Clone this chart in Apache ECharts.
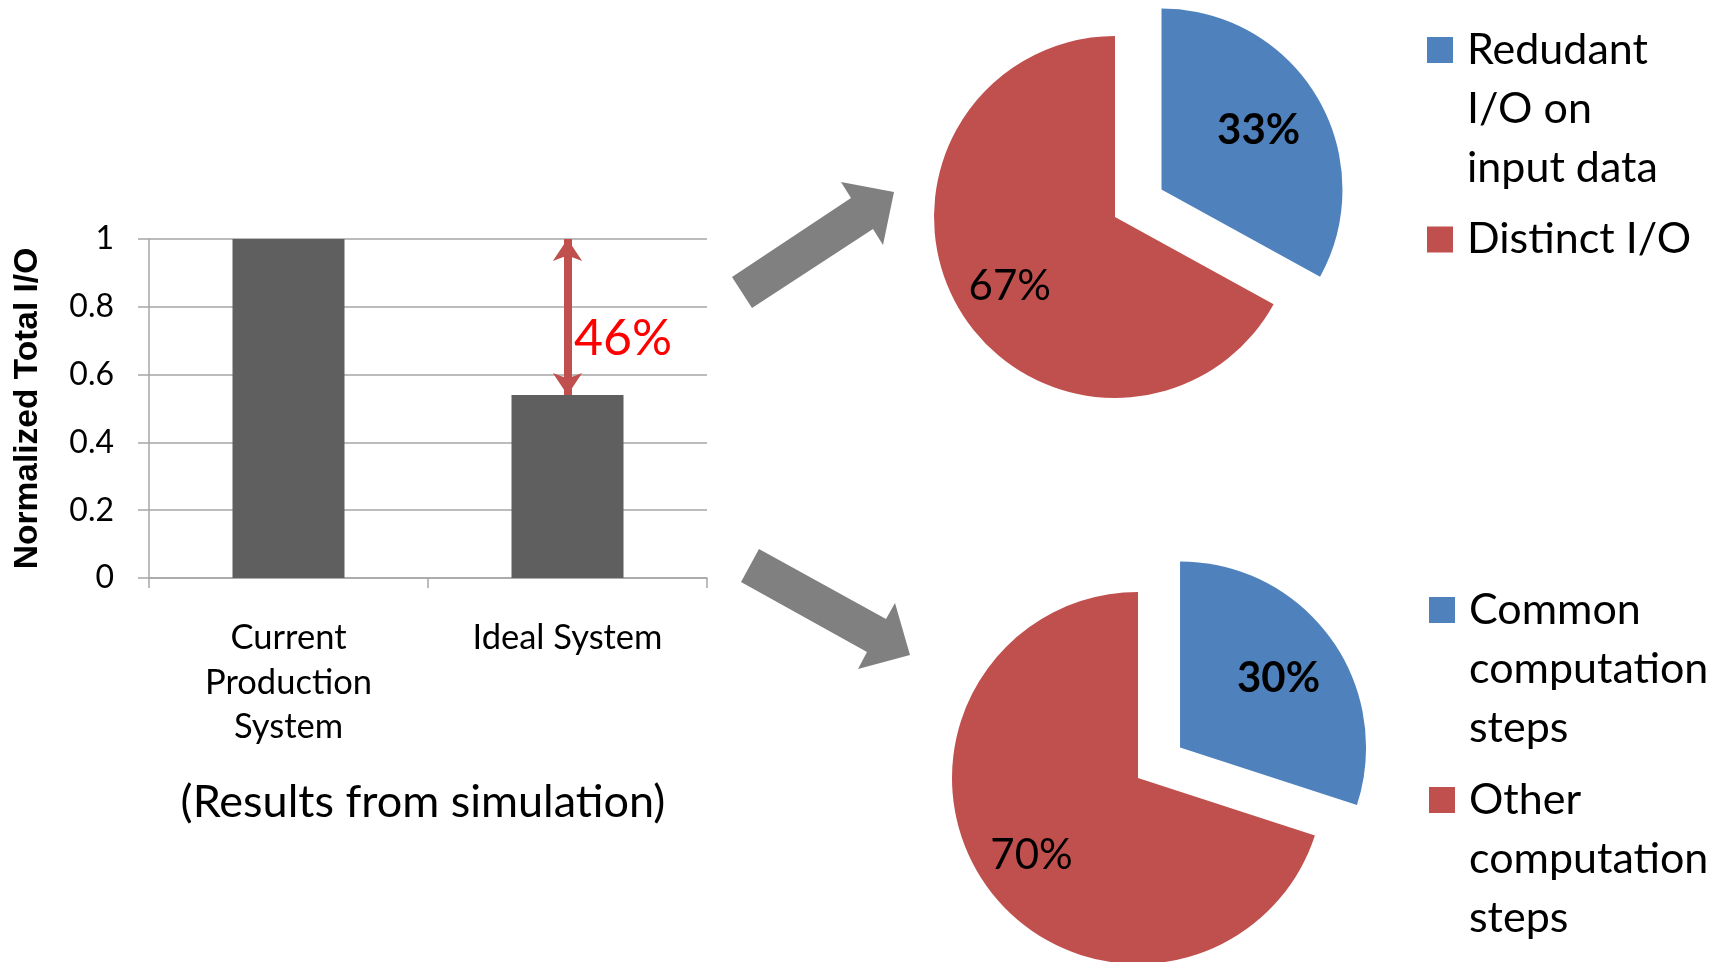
<!DOCTYPE html>
<html><head><meta charset="utf-8">
<script src="https://cdn.jsdelivr.net/npm/echarts@6/dist/echarts.min.js"></script>
<style>html,body{margin:0;padding:0;background:#fff}#c{width:1733px;height:962px}</style>
</head><body><div id="c"></div>
<script>
// ---- data ----
const barCategories = ['Current\nProduction\nSystem', 'Ideal System'];
const barValues = [1, 0.54];
const barNote = '(Results from simulation)';
const yAxisTitle = 'Normalized Total I/O';
const topPieNames = ['Redudant\nI/O on\ninput data', 'Distinct I/O'];
const topPieValues = [33, 67];
const bottomPieNames = ['Common\ncomputation\nsteps', 'Other\ncomputation\nsteps'];
const bottomPieValues = [30, 70];

// ---- styles ----
const FONT = 'Lato';
const pieColors = ['#4f81bd', '#c0504d'];
const gridColor = '#a6a6a6';
const LH = 59;

function legendIcon(lines) {
  const H = lines * LH, W = 35, s = 26, c = LH / 2;
  const a = c - s / 2;
  return 'path://M0,0M' + W + ',' + H + 'M0,' + a + 'L' + s + ',' + a + 'L' + s + ',' + (a + s) + 'L0,' + (a + s) + 'Z';
}
function lineCount(n) { return n.split('\n').length; }
function makeLegend(name, left, firstLineCenter) {
  const n = lineCount(name);
  return {
    data: [{ name: name, icon: legendIcon(n) }],
    orient: 'vertical', left: left, top: firstLineCenter - LH / 2, padding: 0,
    itemWidth: 35, itemHeight: n * LH, selectedMode: false,
    textStyle: { fontFamily: FONT, fontSize: 43, color: '#000', lineHeight: LH }
  };
}
function pieSeries(names, values, center, R, offset, labelOffsets) {
  const data = names.map((n, i) => ({ name: n, value: values[i], selected: i === 0, itemStyle: { color: pieColors[i] } }));
  return [{
    type: 'pie', center: center, radius: R, startAngle: 90, clockwise: true,
    selectedMode: 'single', selectedOffset: offset, silent: true,
    label: { show: false }, labelLine: { show: false }, emphasis: { disabled: true },
    data: data
  }, {
    type: 'pie', center: center, radius: [R * 0.33, R], startAngle: 90, clockwise: true,
    selectedMode: 'single', selectedOffset: offset, silent: true,
    itemStyle: { color: 'rgba(0,0,0,0)' }, emphasis: { disabled: true },
    labelLine: { show: false },
    label: { show: true, position: 'inner', formatter: p => p.value + '%', fontFamily: FONT, fontSize: 42, color: '#000' },
    data: names.map((n, i) => {
      const lab = { fontWeight: i === 0 ? 'bold' : 'normal', offset: labelOffsets[i] };
      return { name: n, value: values[i], selected: i === 0, label: lab, select: { label: lab } };
    })
  }];
}

const reduction = Math.round((barValues[0] - barValues[1]) / barValues[0] * 100);
const last = barValues.length - 1;

const chart = echarts.init(document.getElementById('c'), null, { renderer: 'canvas' });
chart.setOption({
  animation: false,
  backgroundColor: '#fff',
  title: {
    text: barNote, left: 423, top: 776, textAlign: 'center', padding: 0,
    textStyle: { fontFamily: FONT, fontSize: 45, fontWeight: 'normal', color: '#000', lineHeight: 52 }
  },
  legend: [
    makeLegend(topPieNames[0], 1427, 50),
    makeLegend(topPieNames[1], 1427, 239.5),
    makeLegend(bottomPieNames[0], 1429, 610),
    makeLegend(bottomPieNames[1], 1429, 800)
  ],
  grid: { left: 149, top: 239, width: 558, height: 339 },
  xAxis: {
    type: 'category', data: barCategories,
    axisLine: { lineStyle: { color: gridColor, width: 1.5 } },
    axisTick: { show: true, length: 10, lineStyle: { color: gridColor, width: 1.5 } },
    axisLabel: { interval: 0, color: '#000', fontFamily: FONT, fontSize: 34.5, lineHeight: 44.5, margin: 38 }
  },
  yAxis: {
    type: 'value', min: 0, max: 1, interval: 0.2,
    name: yAxisTitle, nameLocation: 'middle', nameGap: 104,
    nameTextStyle: { fontFamily: 'Liberation Sans', fontWeight: 'bold', fontSize: 33.5, color: '#000' },
    axisLine: { show: true, lineStyle: { color: gridColor, width: 1.5 } },
    axisTick: { show: true, length: 11, lineStyle: { color: gridColor, width: 1.5 } },
    splitLine: { lineStyle: { color: gridColor, width: 1.5 } },
    axisLabel: { color: '#000', fontFamily: FONT, fontSize: 32, margin: 35 }
  },
  series: [
    {
      type: 'bar', data: barValues, barWidth: 112, silent: true,
      itemStyle: { color: '#5f5f5f' },
      markLine: {
        silent: true, symbol: ['arrow', 'arrow'], symbolSize: [22, 22],
        lineStyle: { color: '#c0504d', width: 8, type: 'solid' },
        label: { show: false }, emphasis: { disabled: true },
        data: [[{ coord: [last, barValues[0]] }, { coord: [last, barValues[last]] }]]
      },
      markPoint: {
        silent: true, symbol: 'circle', symbolSize: 1,
        itemStyle: { color: 'rgba(0,0,0,0)' },
        label: { show: true, position: 'right', distance: 6, offset: [0, 22],
          formatter: () => reduction + '%', fontFamily: FONT, fontSize: 50, color: '#ff0000' },
        data: [{ coord: [last, (barValues[0] + barValues[last]) / 2] }]
      }
    },
    ...pieSeries(topPieNames, topPieValues, [1115, 217], 181, 54, [[-9, 4], [1, 7]]),
    ...pieSeries(bottomPieNames, bottomPieValues, [1138, 778], 186, 52, [[-4, 5], [-4, 3]])
  ],
  graphic: [
    { type: 'polygon', silent: true, shape: { points: [[732,277],[851,198],[841,182],[894,192],[883,245],[873,229],[752,308]] }, style: { fill: '#808080' } },
    { type: 'polygon', silent: true, shape: { points: [[759,549],[886,619],[895,603],[910,655],[858,669],[867,652],[741,582]] }, style: { fill: '#808080' } }
  ]
});
</script></body></html>
